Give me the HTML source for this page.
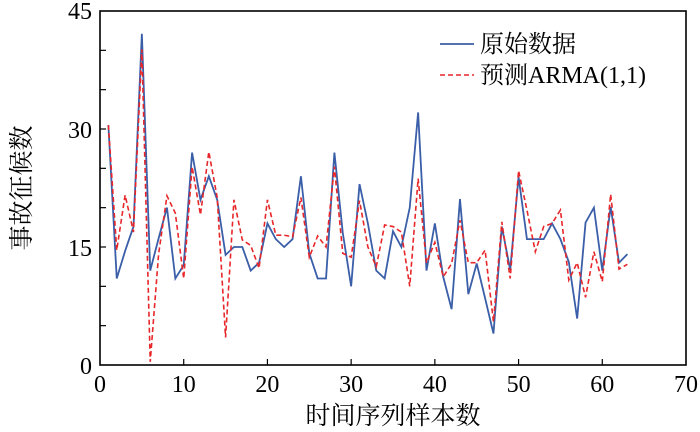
<!DOCTYPE html>
<html><head><meta charset="utf-8"><style>
body{margin:0;background:#fff;}
svg{display:block;font-family:"Liberation Serif","Noto Serif CJK SC",serif;}
</style></head><body>
<svg id="chart" width="700" height="432" viewBox="0 0 700 432" xmlns="http://www.w3.org/2000/svg">
<g id="plot"></g>
</svg>
<script>
const original = [30.5,11,14.5,17.6,42.1,12,16.1,20,11,12.7,27,21,24,21,14,15,15,12,13,18,16,15,16,24,14.2,11,11,27,16.8,10,23,18,12,11,17,15,20,32.1,12,18,11.2,7.1,21.1,9,12.9,8.5,4,17.6,12.1,23.9,16,16,16,18,16,13.1,5.9,18.1,20,12,20.1,13,14.1];
const predicted = [30.5,14.6,21.6,16.9,40.1,0.4,14.1,21.5,19.3,11,25.2,19.1,27.1,21.3,3.5,21,15.9,15.2,12.3,21,16.5,16.5,16.3,21.3,13.7,16.4,15,25.2,14.2,13.7,20.9,15,12.5,17.8,17.6,16.9,10,23.7,13,15.6,11.2,12.9,18.4,13,13,14.6,5.5,18.2,11,24.7,19.7,14.4,17.6,18,19.7,10.8,13,8.6,14.4,10.6,21.7,12.2,12.8];
const xTicks = [0,10,20,30,40,50,60,70];
const yTicks = [0,15,30,45];
const yMinor = [5,10,20,25,35,40];
const NS="http://www.w3.org/2000/svg";
const L=100,R=686,T=11,B=365;
const xs=v=>L+(v/70)*(R-L);
const ys=v=>B-(v/45)*(B-T);
const g=document.getElementById('plot');
function el(t,a){const e=document.createElementNS(NS,t);for(const k in a)e.setAttribute(k,a[k]);g.appendChild(e);return e;}
let e=el('rect',{x:L,y:T,width:R-L,height:B-T,fill:'none',stroke:'#000','stroke-width':1.6});


xTicks.forEach(v=>{
  if(v>0&&v<70){const t=el('line',{x1:xs(v),x2:xs(v),y1:B,y2:B-6,stroke:'#000','stroke-width':1.2});
  
  }
  const lb=el('text',{x:xs(v),y:392,'text-anchor':'middle','font-size':24,fill:'#000'});lb.textContent=v;
  
  
});
yTicks.concat(yMinor).forEach(v=>{
  if(v>0&&v<45){const t=el('line',{x1:L,x2:L+6,y1:ys(v),y2:ys(v),stroke:'#000','stroke-width':1.2});
  
  }
});
yTicks.forEach(v=>{
  const lb=el('text',{x:92,y:ys(v)+(v==45?8:9),'text-anchor':'end','font-size':24,fill:'#000'});lb.textContent=v;
  
  
});
function pts(a){return a.map((v,i)=>xs(i+1)+','+ys(v)).join(' ');}
const pb=el('polyline',{points:pts(original),fill:'none',stroke:'#3a5ea8','stroke-width':1.8,'stroke-linejoin':'miter'});


const pr=el('polyline',{points:pts(predicted),fill:'none',stroke:'#e8272a','stroke-width':1.6,'stroke-dasharray':'5,3'});


const l1=el('line',{x1:440,x2:474,y1:44,y2:44,stroke:'#3a5ea8','stroke-width':1.8});


const t1=el('text',{x:480,y:52,'font-size':24,fill:'#000'});t1.textContent='原始数据';


const l2=el('line',{x1:440,x2:474,y1:75,y2:75,stroke:'#e8272a','stroke-width':1.6,'stroke-dasharray':'5,3'});


const t2=el('text',{x:480,y:83,'font-size':24,fill:'#000'});t2.textContent='预测ARMA(1,1)';


const xt=el('text',{x:393,y:424,'text-anchor':'middle','font-size':25,fill:'#000'});xt.textContent='时间序列样本数';


const yt=el('text',{x:0,y:0,'text-anchor':'middle','font-size':25,fill:'#000',transform:'translate(30,188) rotate(-90)'});yt.textContent='事故征候数';


</script>
</body></html>
